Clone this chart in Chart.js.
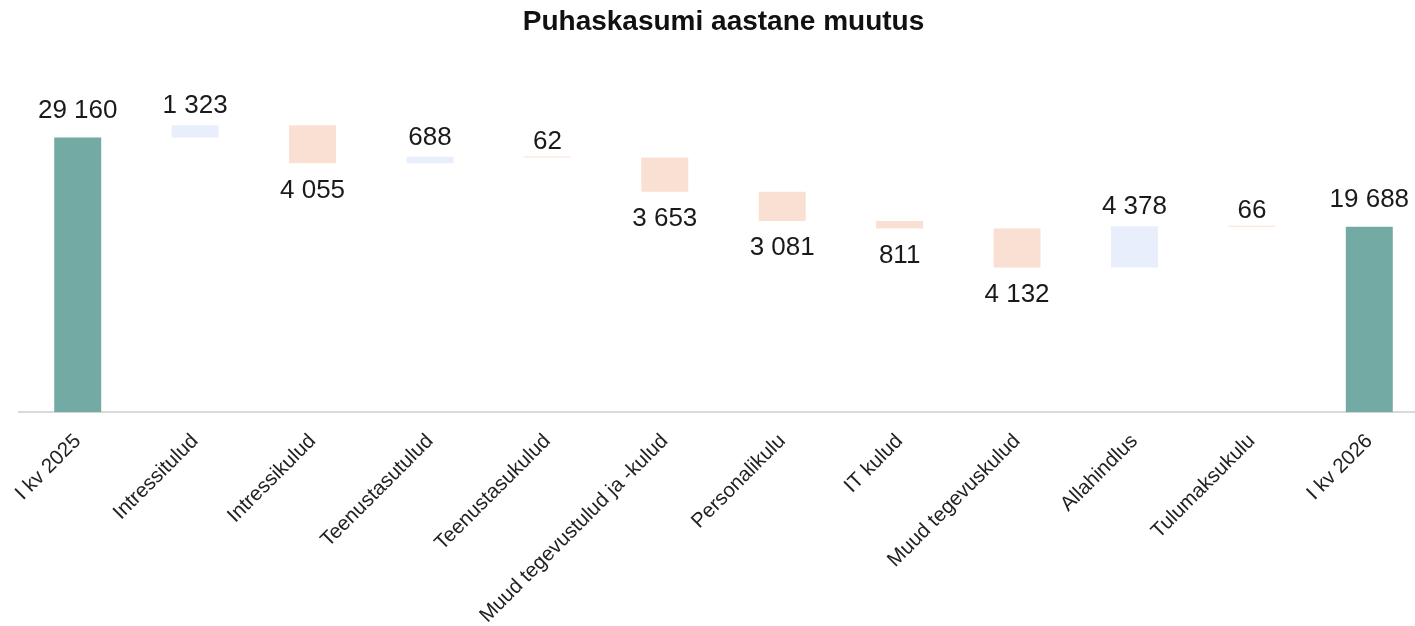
<!DOCTYPE html>
<html>
<head>
<meta charset="utf-8">
<title>Puhaskasumi aastane muutus</title>
<script src="https://cdn.jsdelivr.net/npm/chart.js@4/dist/chart.umd.min.js"></script>
<style>
  html, body { margin: 0; padding: 0; background: #fff; overflow: hidden; }
  #wrap { width: 1428px; height: 645px; }
</style>
</head>
<body>
<div id="wrap"><canvas id="waterfall"></canvas></div>
<script>
// andmed
var categories = ["I kv 2025", "Intressitulud", "Intressikulud", "Teenustasutulud", "Teenustasukulud",
  "Muud tegevustulud ja -kulud", "Personalikulu", "IT kulud", "Muud tegevuskulud", "Allahindlus",
  "Tulumaksukulu", "I kv 2026"];
var changes = [29160, 1323, -4055, 688, -62, -3653, -3081, -811, -4132, 4378, -66, 19688];
var isTotal = [true, false, false, false, false, false, false, false, false, false, false, true];

var colTotal = "#73aaa4", colUp = "#e8eefb", colDown = "#f9e0d3";

// ujuvad tulbad [algus, lõpp]
var ranges = [], colors = [], running = 0;
for (var i = 0; i < changes.length; i++) {
  if (isTotal[i]) {
    ranges.push([0, changes[i]]);
    running = changes[i];
    colors.push(colTotal);
  } else {
    ranges.push([running, running + changes[i]]);
    running += changes[i];
    colors.push(changes[i] >= 0 ? colUp : colDown);
  }
}

function fmt(v) {
  return String(Math.abs(v)).replace(/\B(?=(\d{3})+(?!\d))/g, " ");
}

var valueLabels = {
  id: "valueLabels",
  afterDatasetsDraw: function (chart) {
    var ctx = chart.ctx;
    var meta = chart.getDatasetMeta(0);
    ctx.save();
    ctx.font = "26px 'Liberation Sans', Arial, sans-serif";
    ctx.fillStyle = "#1a1a1a";
    ctx.textAlign = "center";
    ctx.textBaseline = "middle";
    meta.data.forEach(function (bar, i) {
      var top = Math.min(bar.y, bar.base), bottom = Math.max(bar.y, bar.base);
      var h = bottom - top;
      if (isTotal[i]) {
        ctx.fillText(fmt(changes[i]), bar.x, top - 27);
      } else if (h < 3) {
        ctx.fillText(fmt(changes[i]), bar.x, top - 15);
      } else if (changes[i] >= 0) {
        ctx.fillText(fmt(changes[i]), bar.x, top - 19);
      } else {
        ctx.fillText(fmt(changes[i]), bar.x, bottom + 27);
      }
    });
    ctx.restore();
  }
};

new Chart(document.getElementById("waterfall").getContext("2d"), {
  type: "bar",
  data: {
    labels: categories,
    datasets: [{
      data: ranges,
      backgroundColor: colors,
      borderWidth: 0,
      borderSkipped: false,
      minBarLength: 1,
      categoryPercentage: 1,
      barPercentage: 0.4
    }]
  },
  options: {
    responsive: true,
    maintainAspectRatio: false,
    animation: false,
    layout: { padding: { left: 19, right: 0, top: 0, bottom: 0 } },
    plugins: {
      legend: { display: false },
      tooltip: { enabled: false },
      title: {
        display: true,
        text: "Puhaskasumi aastane muutus",
        color: "#111",
        font: { family: "'Liberation Sans', Arial, sans-serif", size: 28, weight: "bold" },
        padding: { top: 5, bottom: 44 }
      }
    },
    scales: {
      x: {
        grid: { display: false, drawTicks: false },
        border: { display: true, color: "#d9d9d9", width: 2 },
        ticks: {
          color: "#222",
          font: { family: "'Liberation Sans', Arial, sans-serif", size: 20.5 },
          minRotation: 45,
          maxRotation: 45,
          autoSkip: false,
          padding: 17
        }
      },
      y: {
        display: false,
        min: 0,
        max: 35000
      }
    }
  },
  plugins: [valueLabels]
});
</script>
</body>
</html>
